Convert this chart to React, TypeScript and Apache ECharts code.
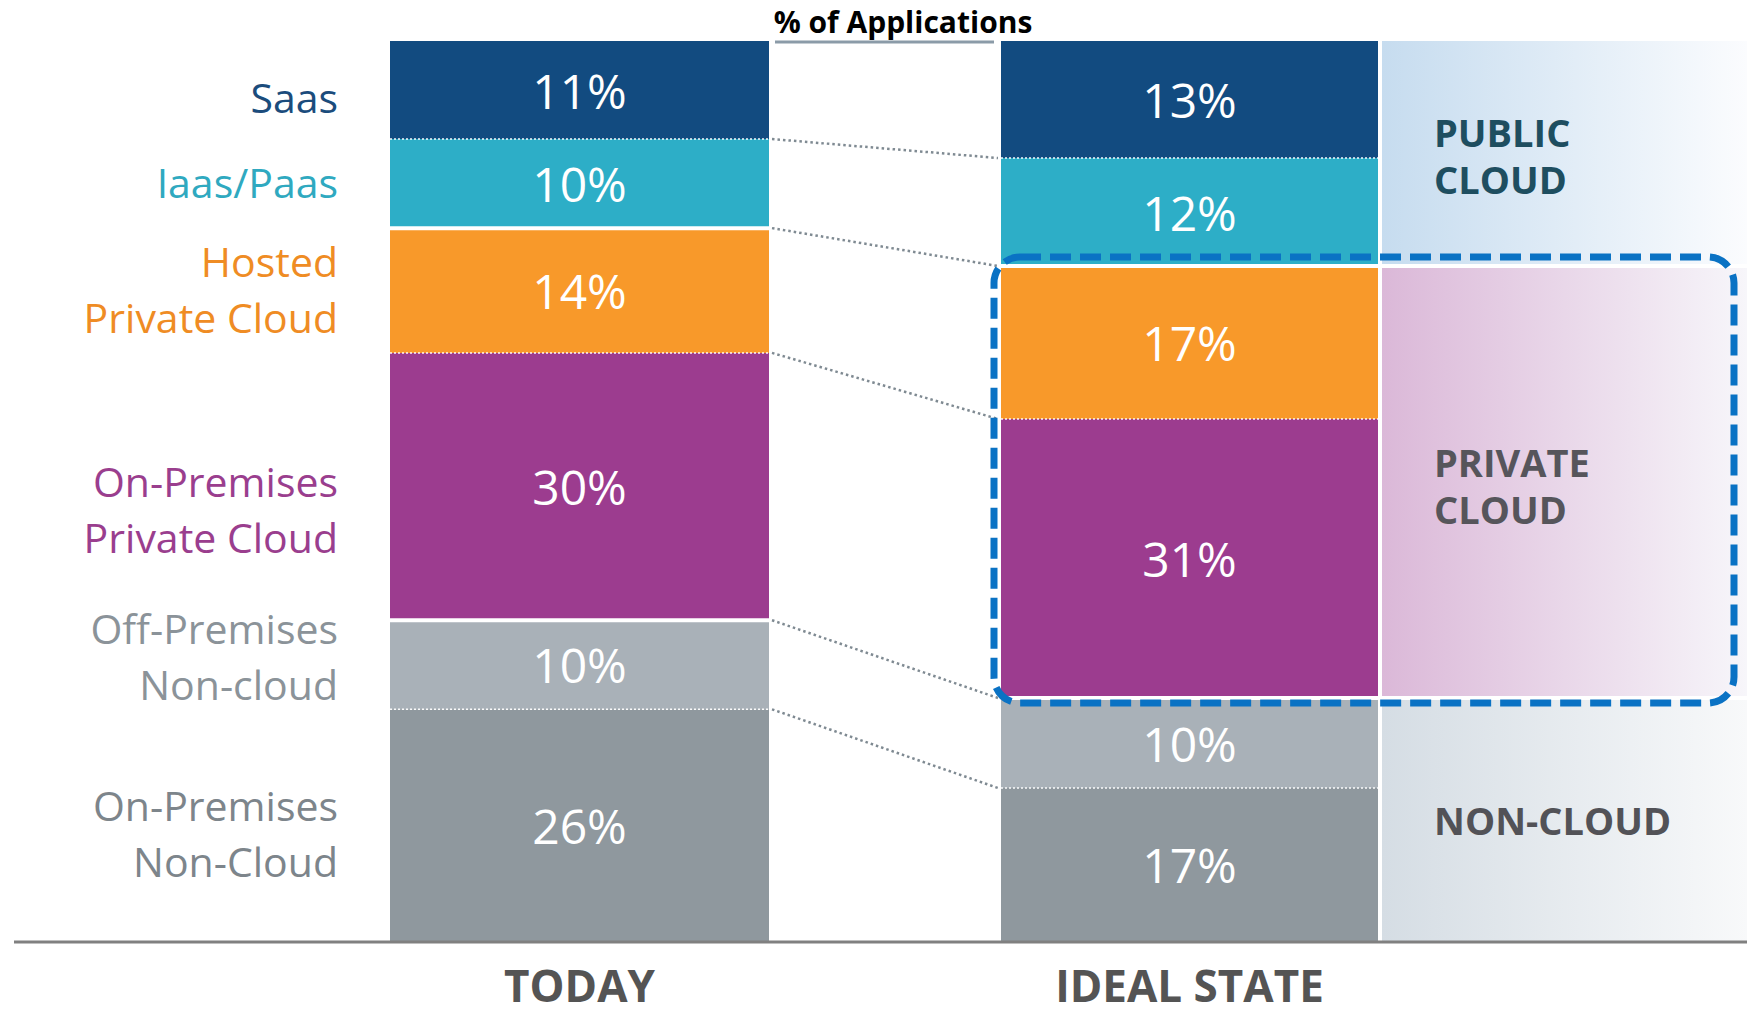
import React, { useEffect, useRef } from "react";
import * as echarts from "echarts";

// ---------- data ----------
const title = "% of Applications";
const periods = ["TODAY", "IDEAL STATE"];
const categories = [
  "Saas",
  "Iaas/Paas",
  "Hosted\nPrivate Cloud",
  "On-Premises\nPrivate Cloud",
  "Off-Premises\nNon-cloud",
  "On-Premises\nNon-Cloud",
];
const todayValues = [11, 10, 14, 30, 10, 26];
const idealValues = [13, 12, 17, 31, 10, 17];
const groupNames = ["PUBLIC\nCLOUD", "PRIVATE\nCLOUD", "NON-CLOUD"];
const groupRanges = [
  [0, 2],
  [2, 4],
  [4, 6],
];

// ---------- styles / layout ----------
const barColors = ["#124b80", "#2daec7", "#f8992a", "#9c3c8f", "#a9b1b8", "#8f989e"];
const labelColors = ["#1b4c7c", "#2fa9c0", "#ef8c24", "#9a3e8e", "#8b9399", "#7d858b"];
const labelOffsets = [7, -2, -2, 22, -9, 8];
const groupTextColors = ["#1e4e60", "#56555b", "#525257"];
const groupTextOffsets = [2, 3, 0];
const groupGradients = [
  ["#c6dcef", "#fbfcfe"],
  ["#dbb8d8", "#f7f6fa"],
  ["#d5dde4", "#f8f9fa"],
];
const FONT = "'Open Sans', 'Noto Sans', sans-serif";
const GRID_TOP = 41;
const GRID_H = 900;
const grids = [
  { left: 390, width: 379 },
  { left: 1001, width: 377 },
];

const sum = (a: number[]) => a.reduce((s, v) => s + v, 0);

export default function App() {
  const ref = useRef<HTMLDivElement>(null);

  useEffect(() => {
    if (!ref.current) return;
    const chart = echarts.init(ref.current, null, { renderer: "svg" });
    const allValues = [todayValues, idealValues];

    const series: any[] = [];
    allValues.forEach((vals, g) => {
      vals.forEach((v, i) => {
        series.push({
          type: "bar",
          name: categories[i].replace("\n", " "),
          stack: "s" + g,
          xAxisIndex: g,
          yAxisIndex: g,
          data: [v],
          barWidth: "100%",
          itemStyle: { color: barColors[i] },
          label: {
            show: true,
            position: "inside",
            formatter: "{c}%",
            color: "#ffffff",
            fontSize: 48,
            fontFamily: FONT,
          },
          emphasis: { disabled: true },
        });
      });
    });

    chart.setOption({
      animation: false,
      textStyle: { fontFamily: FONT },
      grid: grids.map((gr) => ({
        left: gr.left,
        width: gr.width,
        top: GRID_TOP,
        height: GRID_H,
        containLabel: false,
      })),
      xAxis: grids.map((_, g) => ({
        type: "category",
        gridIndex: g,
        data: [periods[g]],
        axisLine: { show: false },
        axisTick: { show: false },
        axisLabel: {
          margin: 22,
          fontSize: 44,
          fontWeight: "bold",
          color: "#545454",
          fontFamily: FONT,
        },
      })),
      yAxis: grids.map((_, g) => ({
        type: "value",
        gridIndex: g,
        min: 0,
        max: sum(allValues[g]),
        inverse: true,
        show: false,
      })),
      series,
    });

    // boundaries in pixels
    const bounds = allValues.map((vals, g) => {
      const out: number[] = [];
      let c = 0;
      out.push(chart.convertToPixel({ gridIndex: g }, [0, 0])[1]);
      vals.forEach((v) => {
        c += v;
        out.push(chart.convertToPixel({ gridIndex: g }, [0, c])[1]);
      });
      return out;
    });
    const tB = bounds[0];
    const iB = bounds[1];
    const tL = grids[0].left;
    const tR = grids[0].left + grids[0].width;
    const iL = grids[1].left;
    const iR = grids[1].left + grids[1].width;

    const graphic: any[] = [];

    // title
    graphic.push({
      type: "text",
      z: 20,
      style: {
        text: title,
        x: 903,
        y: 21,
        align: "center",
        verticalAlign: "middle",
        fontSize: 30,
        fontWeight: "bold",
        fontFamily: FONT,
        fill: "#000000",
      },
    });
    graphic.push({
      type: "line",
      z: 20,
      shape: { x1: tR + 6, y1: GRID_TOP + 1, x2: iL - 7, y2: GRID_TOP + 1 },
      style: { stroke: "#8b9ba8", lineWidth: 3 },
    });

    // bottom axis line
    graphic.push({
      type: "line",
      z: 20,
      shape: { x1: 14, y1: GRID_TOP + GRID_H + 1, x2: 1747, y2: GRID_TOP + GRID_H + 1 },
      style: { stroke: "#808080", lineWidth: 3 },
    });

    const groupOf = (i: number) => groupRanges.findIndex((r) => i >= r[0] && i < r[1]);

    // separators inside bars + connectors
    for (let k = 1; k < categories.length; k++) {
      const same = groupOf(k - 1) === groupOf(k);
      [
        [tL, tR, tB[k]],
        [iL, iR, iB[k]],
      ].forEach(([x1, x2, y]) => {
        graphic.push({
          type: "line",
          z: 15,
          shape: { x1, y1: y, x2, y2: y },
          style: same
            ? { stroke: "rgba(255,255,255,0.95)", lineWidth: 1.5, lineDash: [2, 2] }
            : { stroke: "#ffffff", lineWidth: 4 },
        });
      });
      graphic.push({
        type: "line",
        z: 15,
        shape: { x1: tR + 3, y1: tB[k], x2: iL - 3, y2: iB[k] },
        style: { stroke: "#7f8a92", lineWidth: 2.5, lineDash: [2.5, 3] },
      });
    }

    // left category labels
    categories.forEach((c, i) => {
      const cy = (tB[i] + tB[i + 1]) / 2 + labelOffsets[i];
      graphic.push({
        type: "text",
        z: 20,
        style: {
          text: c,
          x: 338,
          y: cy,
          align: "right",
          verticalAlign: "middle",
          fontSize: 41,
          lineHeight: 56,
          fontFamily: FONT,
          fill: labelColors[i],
        },
      });
    });

    // right group panels
    groupRanges.forEach((r, gi) => {
      const y1 = iB[r[0]] + (gi === 0 ? 0 : 2);
      const y2 = iB[r[1]] - (gi === groupRanges.length - 1 ? 0 : 2);
      graphic.push({
        type: "rect",
        z: 1,
        shape: { x: iR + 4, y: y1, width: 1747 - iR - 4, height: y2 - y1 },
        style: {
          fill: new echarts.graphic.LinearGradient(0, 0, 1, 0, [
            { offset: 0, color: groupGradients[gi][0] },
            { offset: 1, color: groupGradients[gi][1] },
          ]),
        },
      });
      graphic.push({
        type: "text",
        z: 20,
        style: {
          text: groupNames[gi],
          x: 1434,
          y: (iB[r[0]] + iB[r[1]]) / 2 + groupTextOffsets[gi],
          align: "left",
          verticalAlign: "middle",
          fontSize: 38,
          lineHeight: 47,
          fontWeight: "bold",
          fontFamily: FONT,
          fill: groupTextColors[gi],
        },
      });
    });

    // dashed highlight box around private cloud in ideal state
    const pr = groupRanges[1];
    const by1 = iB[pr[0]] - 9;
    const by2 = iB[pr[1]] + 5;
    graphic.push({
      type: "rect",
      z: 30,
      shape: { x: iL - 7, y: by1, width: 1734 - (iL - 7), height: by2 - by1, r: 26 },
      style: { fill: "none", stroke: "#0a72c4", lineWidth: 7, lineDash: [21, 9] },
    });

    chart.setOption({ graphic });

    return () => chart.dispose();
  }, []);

  return (
    <div
      ref={ref}
      style={{ position: "fixed", left: 0, top: 0, width: 1747, height: 1016, background: "#ffffff" }}
    />
  );
}
